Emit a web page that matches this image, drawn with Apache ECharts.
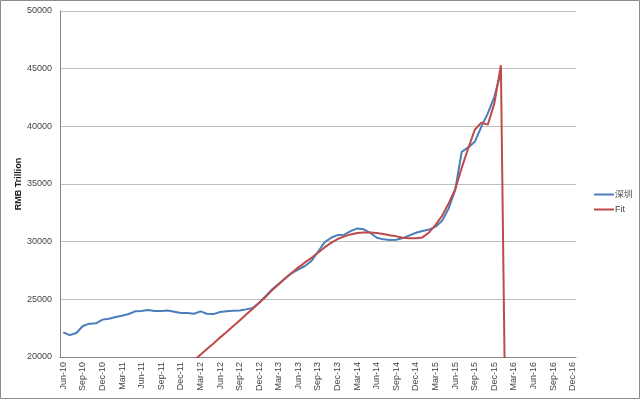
<!DOCTYPE html>
<html>
<head>
<meta charset="utf-8">
<script src="https://cdn.jsdelivr.net/npm/echarts@6/dist/echarts.min.js"></script>
<style>
html, body { margin: 0; padding: 0; background: #fff; }
#chart { width: 640px; height: 399px; }
</style>
</head>
<body>
<div id="chart"></div>
<script>
var months = ['Jun-10', 'Jul-10', 'Aug-10', 'Sep-10', 'Oct-10', 'Nov-10', 'Dec-10',
	'Jan-11', 'Feb-11', 'Mar-11', 'Apr-11', 'May-11', 'Jun-11', 'Jul-11', 'Aug-11', 'Sep-11', 'Oct-11', 'Nov-11', 'Dec-11',
	'Jan-12', 'Feb-12', 'Mar-12', 'Apr-12', 'May-12', 'Jun-12', 'Jul-12', 'Aug-12', 'Sep-12', 'Oct-12', 'Nov-12', 'Dec-12',
	'Jan-13', 'Feb-13', 'Mar-13', 'Apr-13', 'May-13', 'Jun-13', 'Jul-13', 'Aug-13', 'Sep-13', 'Oct-13', 'Nov-13', 'Dec-13',
	'Jan-14', 'Feb-14', 'Mar-14', 'Apr-14', 'May-14', 'Jun-14', 'Jul-14', 'Aug-14', 'Sep-14', 'Oct-14', 'Nov-14', 'Dec-14',
	'Jan-15', 'Feb-15', 'Mar-15', 'Apr-15', 'May-15', 'Jun-15', 'Jul-15', 'Aug-15', 'Sep-15', 'Oct-15', 'Nov-15', 'Dec-15',
	'Jan-16', 'Feb-16', 'Mar-16', 'Apr-16', 'May-16', 'Jun-16', 'Jul-16', 'Aug-16', 'Sep-16', 'Oct-16', 'Nov-16', 'Dec-16'];

// 深圳 (actual)
var shenzhen = [22140, 21900, 22080, 22690, 22890, 22920, 23240,
	23320, 23470, 23580, 23730, 23960, 23990, 24070, 23990, 23990, 24030, 23930, 23810,
	23810, 23750, 23960, 23750, 23720, 23900, 23960, 24000, 24030, 24130, 24250, 24710,
	25290, 25870, 26350, 26820, 27280, 27600, 27890, 28320, 29130, 29940, 30340, 30570,
	30600, 30920, 31150, 31070, 30770, 30340, 30200, 30140, 30170, 30310, 30550, 30770,
	30920, 31050, 31300, 31810, 32880, 34470, 37790, 38170, 38660, 39960, 41120, 42560,
	44700];

// Fit
var fit = [null, null, null, null, null, null, null,
	null, null, null, null, null, null, null, null, null, null, null, null,
	19220, 19700, 20200, 20690, 21180, 21680, 22170, 22670, 23170, 23680, 24190, 24710,
	25230, 25800, 26300, 26820, 27300, 27770, 28200, 28600, 29040, 29500, 29900, 30230,
	30460, 30630, 30750, 30800, 30800, 30750, 30660, 30550, 30460, 30340, 30290, 30290,
	30370, 30800, 31450, 32250, 33320, 34530, 36400, 38100, 39700, 40320, 40150, 41990,
	45300, 0];

var chart = echarts.init(document.getElementById('chart'));

var option = {
	backgroundColor: '#fff',
	animation: false,
	textStyle: {
		fontFamily: 'Liberation Sans'
	},
	graphic: [{
		type: 'rect',
		shape: { x: 0.5, y: 0.5, width: 639, height: 398 },
		style: { fill: 'none', stroke: '#8c8c8c', lineWidth: 1 },
		silent: true
	}],
	grid: {
		left: 60,
		right: 64,
		top: 11,
		bottom: 42,
		outerBoundsMode: 'none'
	},
	legend: {
		orient: 'vertical',
		left: 589,
		top: 185,
		itemGap: 6,
		itemWidth: 20,
		itemHeight: 2,
		icon: 'rect',
		textStyle: {
			fontSize: 9,
			color: '#444',
			padding: [0, 0, 0, -4]
		},
		data: ['深圳', 'Fit']
	},
	xAxis: {
		type: 'category',
		data: months,
		boundaryGap: true,
		axisLine: {
			lineStyle: { color: '#868686', width: 1 }
		},
		axisTick: {
			interval: 2,
			length: 5,
			lineStyle: { color: '#868686' }
		},
		axisLabel: {
			interval: 2,
			rotate: 90,
			fontSize: 9,
			color: '#444',
			margin: 5
		},
		splitLine: { show: false }
	},
	yAxis: {
		type: 'value',
		min: 20000,
		max: 50000,
		interval: 5000,
		name: 'RMB Trillion',
		nameLocation: 'middle',
		nameGap: 37,
		nameMoveOverlap: false,
		nameTextStyle: {
			fontSize: 9,
			fontWeight: 'bold',
			color: '#222'
		},
		axisLine: {
			show: true,
			lineStyle: { color: '#868686', width: 1 }
		},
		axisTick: { show: false },
		axisLabel: {
			fontSize: 9,
			color: '#444',
			margin: 8,
			formatter: function (v) { return String(v); }
		},
		splitLine: {
			lineStyle: { color: '#bfbfbf', width: 1 }
		}
	},
	series: [{
		name: '深圳',
		type: 'line',
		data: shenzhen,
		symbol: 'none',
		clip: true,
		itemStyle: { color: '#4a7ebb' },
		lineStyle: { color: '#4a7ebb', width: 2 }
	}, {
		name: 'Fit',
		type: 'line',
		data: fit,
		symbol: 'none',
		clip: true,
		itemStyle: { color: '#be4b48' },
		lineStyle: { color: '#be4b48', width: 2 }
	}]
};

chart.setOption(option);
</script>
</body>
</html>
